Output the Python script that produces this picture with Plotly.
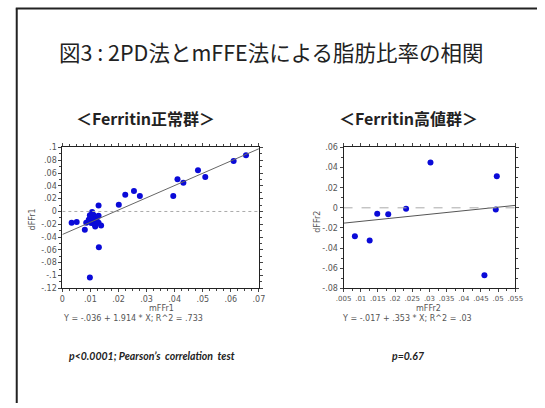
import plotly.graph_objects as go

W, H = 545, 408

# ---- data ----
left_x = [0.0033, 0.0051, 0.0080, 0.0085,
          0.0129, 0.0106, 0.0098, 0.0111, 0.0117, 0.0094, 0.0108, 0.0123, 0.0103,
          0.0115, 0.0129, 0.0138, 0.0117, 0.0129, 0.0100,
          0.0130, 0.0098,
          0.0201, 0.0224, 0.0255, 0.0276, 0.0395, 0.0410, 0.0431, 0.0483, 0.0509,
          0.0610, 0.0654]
left_y = [-0.0175, -0.0165, -0.0285, -0.0175,
          0.0092, -0.0010, -0.0060, -0.0055, -0.0097, -0.0130, -0.0125, -0.0148, -0.0180,
          -0.0205, -0.0175, -0.0220, -0.0235, -0.0065, -0.0100,
          -0.0560, -0.1030,
          0.0105, 0.0260, 0.0320, 0.0240, 0.0240, 0.0505, 0.0450, 0.0645, 0.0540,
          0.0790, 0.0880]
left_fit = [-0.036, 1.914]   # intercept, slope

right_x = [0.0083, 0.0126, 0.0148, 0.0180, 0.0232, 0.0303, 0.0460, 0.0493, 0.0496]
right_y = [-0.0282, -0.0324, -0.0058, -0.0065, -0.0010, 0.0450, -0.0670, -0.0016, 0.0314]
right_fit = [-0.017, 0.353]

left_xticks = [0, 0.01, 0.02, 0.03, 0.04, 0.05, 0.06, 0.07]
left_xlabels = ["0", ".01", ".02", ".03", ".04", ".05", ".06", ".07"]
left_yticks = [-0.12, -0.10, -0.08, -0.06, -0.04, -0.02, 0, 0.02, 0.04, 0.06, 0.08, 0.10]
left_ylabels = ["-.12", "-.1", "-.08", "-.06", "-.04", "-.02", "0", ".02", ".04", ".06", ".08", ".1"]
right_xticks = [0.005, 0.01, 0.015, 0.02, 0.025, 0.03, 0.035, 0.04, 0.045, 0.05, 0.055]
right_xlabels = [".005", ".01", ".015", ".02", ".025", ".03", ".035", ".04", ".045", ".05", ".055"]
right_yticks = [-0.08, -0.06, -0.04, -0.02, 0, 0.02, 0.04, 0.06]
right_ylabels = ["-.08", "-.06", "-.04", "-.02", "0", ".02", ".04", ".06"]

title = "図3 : 2PD法とmFFE法による脂肪比率の相関"
sub_left = "＜Ferritin正常群＞"
sub_right = "＜Ferritin高値群＞"
eq_left = "Y = -.036 + 1.914 * X; R^2 = .733"
eq_right = "Y = -.017 + .353 * X; R^2 = .03"
p_left = "p<0.0001; Pearson’s  correlation  test"
p_right = "p=0.67"

# ---- layout helpers ----
def px(x):
    return x / W

def py(y):
    return (H - y) / H

BLUE = "#0a0ad8"
TICKFONT = dict(family="DejaVu Sans", size=8, color="#555")

fig = go.Figure()

fig.add_trace(go.Scatter(x=left_x, y=left_y, mode="markers",
                         marker=dict(color=BLUE, size=6), xaxis="x", yaxis="y",
                         showlegend=False, hoverinfo="skip"))
lx = [left_xticks[0], left_xticks[-1]]
fig.add_trace(go.Scatter(x=lx, y=[left_fit[0] + left_fit[1] * v for v in lx], mode="lines",
                         line=dict(color="#666", width=1), xaxis="x", yaxis="y",
                         showlegend=False, hoverinfo="skip"))
fig.add_trace(go.Scatter(x=lx, y=[0, 0], mode="lines",
                         line=dict(color="#aaa", width=1, dash="dot"), xaxis="x", yaxis="y",
                         showlegend=False, hoverinfo="skip"))

fig.add_trace(go.Scatter(x=right_x, y=right_y, mode="markers",
                         marker=dict(color=BLUE, size=6), xaxis="x2", yaxis="y2",
                         showlegend=False, hoverinfo="skip"))
rx = [right_xticks[0], right_xticks[-1]]
fig.add_trace(go.Scatter(x=rx, y=[right_fit[0] + right_fit[1] * v for v in rx], mode="lines",
                         line=dict(color="#555", width=1), xaxis="x2", yaxis="y2",
                         showlegend=False, hoverinfo="skip"))
fig.add_trace(go.Scatter(x=rx, y=[0, 0], mode="lines",
                         line=dict(color="#aaa", width=1, dash="dash"), xaxis="x2", yaxis="y2",
                         showlegend=False, hoverinfo="skip"))

ydom = [py(290.7), py(146.7)]

def axis(domain, rng, tickvals, ticktext, minor_dtick, anchor, fontsize=8):
    return dict(domain=domain, range=rng, tickvals=tickvals, ticktext=ticktext,
                showgrid=False, zeroline=False, showline=True, linecolor="#222",
                linewidth=1, mirror="ticks", ticks="outside", ticklen=3, tickcolor="#444",
                tickfont=dict(TICKFONT, size=fontsize), tickangle=0, anchor=anchor,
                minor=dict(dtick=minor_dtick, tick0=rng[0], ticks="outside", ticklen=2,
                           tickcolor="#444", showgrid=False))

fig.update_layout(
    width=W, height=H, margin=dict(l=0, r=0, t=0, b=0),
    paper_bgcolor="white", plot_bgcolor="white", showlegend=False,
    xaxis=axis([px(56), px(258.5)], [0, 0.07], left_xticks, left_xlabels, 0.0025, "y"),
    yaxis=axis(ydom, [-0.12, 0.1], left_yticks, left_ylabels, 0.01, "x"),
    xaxis2=axis([px(345.7), px(522.7)], [0.005, 0.055], right_xticks, right_xlabels, 0.0025, "y2", 7),
    yaxis2=axis(ydom, [-0.08, 0.06], right_yticks, right_ylabels, 0.01, "x2"),
)

CJK = "Noto Sans CJK JP"
SMALL = dict(family="DejaVu Sans", size=8, color="#555")
ann = []
ann.append(dict(text=title, x=px(271.5), y=py(49), font=dict(family=CJK, size=21.5, color="#222")))
ann.append(dict(text="<b>" + sub_left + "</b>", x=px(142), y=py(117), font=dict(family=CJK, size=16, color="#222")))
ann.append(dict(text="<b>" + sub_right + "</b>", x=px(413), y=py(117), font=dict(family=CJK, size=16, color="#222")))
ann.append(dict(text="mFFr1", x=px(158), y=py(311.5), font=SMALL))
ann.append(dict(text="mFFr2", x=px(433), y=py(311.5), font=SMALL))
ann.append(dict(text="dFFr1", x=px(25), y=py(220), textangle=-90, font=SMALL))
ann.append(dict(text="dFFr2", x=px(318), y=py(223), textangle=-90, font=SMALL))
ann.append(dict(text=eq_left, x=px(55), y=py(321.7), xanchor="left", font=SMALL))
ann.append(dict(text=eq_right, x=px(342), y=py(321.7), xanchor="left", font=SMALL))
ann.append(dict(text="<i><b>" + p_left + "</b></i>", x=px(61), y=py(360), xanchor="left",
                font=dict(family="Lato", size=10.5, color="#222")))
ann.append(dict(text="<i><b>" + p_right + "</b></i>", x=px(394), y=py(360), xanchor="left",
                font=dict(family="Lato", size=10.5, color="#222")))
for a in ann:
    a.setdefault("xanchor", "center")
    a.update(xref="paper", yref="paper", yanchor="middle", showarrow=False)
fig.update_layout(annotations=ann)

# slide frame (left and top edges visible)
fig.add_shape(type="line", xref="paper", yref="paper", x0=px(9), x1=px(9), y0=0, y1=py(4.5),
              line=dict(color="#222", width=2))
fig.add_shape(type="line", xref="paper", yref="paper", x0=px(8), x1=1, y0=py(4.5), y1=py(4.5),
              line=dict(color="#222", width=2))

fig.write_html("out.html", config={"displayModeBar": False},
               post_script="document.body.style.margin='0';document.body.style.overflow='hidden';")
